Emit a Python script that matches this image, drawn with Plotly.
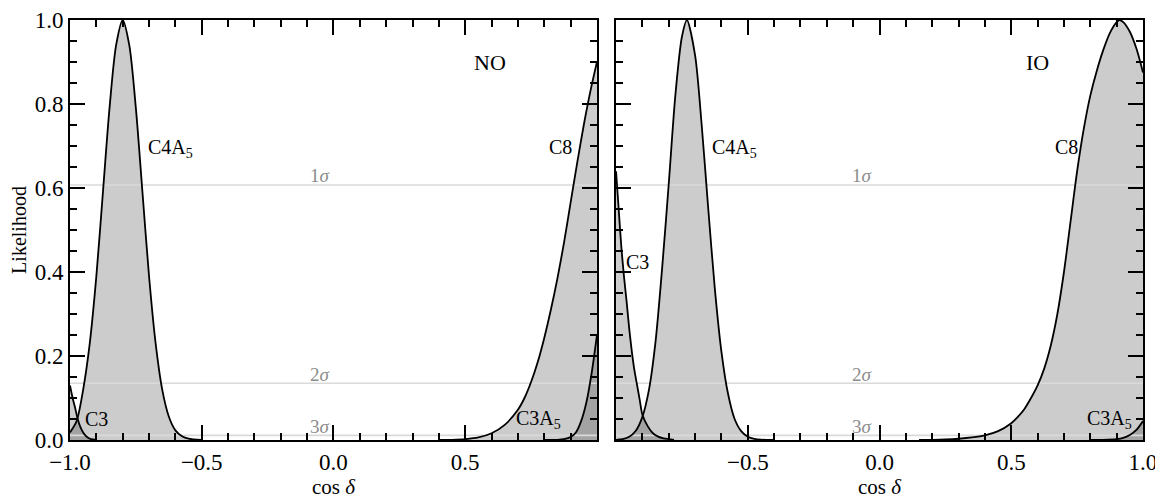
import plotly.graph_objects as go

# ---------------- data ----------------
# Normal ordering (NO) panel
c3_no_x = [-1.0, -0.99, -0.98, -0.97, -0.96, -0.95, -0.94, -0.93, -0.92, -0.9]
c3_no_y = [0.13, 0.10, 0.075, 0.048, 0.03, 0.018, 0.01, 0.005, 0.002, 0.0]

c4a5_no_x = [-1.0, -0.975, -0.95, -0.925, -0.9, -0.875, -0.85, -0.825, -0.8,
             -0.775, -0.75, -0.725, -0.7, -0.675, -0.65, -0.625, -0.6, -0.575, -0.55, -0.5]
c4a5_no_y = [0.018, 0.045, 0.12, 0.23, 0.39, 0.59, 0.79, 0.94, 1.0,
             0.94, 0.79, 0.59, 0.39, 0.23, 0.12, 0.056, 0.023, 0.009, 0.003, 0.0]

c8_no_x = [0.4, 0.45, 0.5, 0.55, 0.6, 0.65, 0.7, 0.725, 0.75, 0.775, 0.8,
           0.825, 0.85, 0.875, 0.9, 0.925, 0.95, 0.975, 1.0]
c8_no_y = [0.0, 0.0005, 0.002, 0.006, 0.016, 0.036, 0.072, 0.10, 0.138, 0.185, 0.243,
           0.31, 0.385, 0.47, 0.565, 0.66, 0.75, 0.83, 0.90]

c3a5_no_x = [0.8, 0.85, 0.875, 0.9, 0.92, 0.94, 0.96, 0.98, 1.0]
c3a5_no_y = [0.0, 0.0005, 0.002, 0.007, 0.018, 0.045, 0.09, 0.16, 0.25]

# Inverted ordering (IO) panel
c3_io_x = [-1.0, -0.99, -0.98, -0.97, -0.96, -0.95, -0.94, -0.93, -0.92, -0.91,
           -0.9, -0.88, -0.86, -0.84, -0.82, -0.8, -0.78]
c3_io_y = [0.64, 0.55, 0.46, 0.39, 0.33, 0.265, 0.21, 0.165, 0.13, 0.095,
           0.06, 0.033, 0.016, 0.008, 0.004, 0.002, 0.0]

c4a5_io_x = [-1.0, -0.975, -0.95, -0.925, -0.9, -0.875, -0.85, -0.825, -0.8, -0.775, -0.75,
             -0.731, -0.7, -0.675, -0.65, -0.625, -0.6, -0.575, -0.55, -0.525, -0.5,
             -0.475, -0.45, -0.4]
c4a5_io_y = [0.0005, 0.002, 0.0075, 0.022, 0.055, 0.12, 0.235, 0.41, 0.61, 0.82, 0.96,
             1.0, 0.916, 0.75, 0.55, 0.36, 0.21, 0.11, 0.05, 0.021, 0.0077,
             0.0025, 0.0007, 0.0]

c8_io_x = [0.15, 0.2, 0.25, 0.3, 0.35, 0.4, 0.45, 0.5, 0.525, 0.55, 0.575, 0.6, 0.625, 0.65, 0.675,
           0.7, 0.725, 0.75, 0.775, 0.8, 0.825, 0.85, 0.875, 0.9, 0.91, 0.925, 0.95, 0.975, 1.0]
c8_io_y = [0.0, 0.0003, 0.0012, 0.003, 0.006, 0.011, 0.021, 0.04, 0.055, 0.074, 0.10, 0.13, 0.17, 0.225, 0.30,
           0.40, 0.52, 0.64, 0.74, 0.82, 0.88, 0.93, 0.97, 0.995, 1.0, 0.995, 0.972, 0.932, 0.875]

c3a5_io_x = [0.8, 0.85, 0.9, 0.925, 0.95, 0.975, 1.0]
c3a5_io_y = [0.0, 0.0003, 0.002, 0.005, 0.012, 0.024, 0.045]

# confidence levels (1, 2, 3 sigma)
sigma_levels = [0.607, 0.135, 0.011]
sigma_labels = ["1<i>σ</i>", "2<i>σ</i>", "3<i>σ</i>"]

# tick labels
left_x_ticks = [-1.0, -0.5, 0.0, 0.5]
right_x_ticks = [-0.5, 0.0, 0.5, 1.0]
x_minor = [-0.9, -0.8, -0.7, -0.6, -0.4, -0.3, -0.2, -0.1, 0.1, 0.2, 0.3, 0.4, 0.6, 0.7, 0.8, 0.9]
y_ticks = [0.0, 0.2, 0.4, 0.6, 0.8, 1.0]
y_minor = [0.05, 0.1, 0.15, 0.25, 0.3, 0.35, 0.45, 0.5, 0.55, 0.65, 0.7, 0.75, 0.85, 0.9, 0.95]

# ---------------- figure ----------------
FONT = "Liberation Serif"
FILL = "rgba(0,0,0,0.2)"
fig = go.Figure()

panels = [
    ("x", "y", [(c3_no_x, c3_no_y), (c4a5_no_x, c4a5_no_y), (c8_no_x, c8_no_y), (c3a5_no_x, c3a5_no_y)]),
    ("x2", "y2", [(c3_io_x, c3_io_y), (c4a5_io_x, c4a5_io_y), (c8_io_x, c8_io_y), (c3a5_io_x, c3a5_io_y)]),
]

for xa, ya, curves in panels:
    # filled areas
    for cx, cy in curves:
        fig.add_trace(go.Scatter(x=cx, y=cy, xaxis=xa, yaxis=ya, mode="lines",
                                 line=dict(width=0, shape="spline", smoothing=0.8),
                                 fill="tozeroy", fillcolor=FILL, hoverinfo="skip",
                                 showlegend=False))
    # sigma lines
    for lv in sigma_levels:
        fig.add_trace(go.Scatter(x=[-1.0, 1.0], y=[lv, lv], xaxis=xa, yaxis=ya, mode="lines",
                                 line=dict(color="#dadada", width=1.6), hoverinfo="skip",
                                 showlegend=False))
    # outlines
    for cx, cy in curves:
        fig.add_trace(go.Scatter(x=cx, y=cy, xaxis=xa, yaxis=ya, mode="lines",
                                 line=dict(color="black", width=1.8, shape="spline", smoothing=0.8),
                                 hoverinfo="skip", showlegend=False))

common_axis = dict(
    showgrid=False, zeroline=False, showline=True, linecolor="black", linewidth=1.8,
    mirror="allticks", ticks="inside", ticklen=15, tickwidth=1.8, tickcolor="black",
    tickfont=dict(family=FONT, size=23, color="black"), automargin=False,
)

# the page body has an 8px margin, so the figure is sized to fit the window
fig.update_layout(
    width=1155, height=491,
    margin=dict(l=62, r=20, t=12, b=59),
    paper_bgcolor="white", plot_bgcolor="white",
    font=dict(family=FONT, size=20, color="black"),
    xaxis=dict(common_axis, domain=[0, 0.4911], range=[-1.0, 1.0],
               tickmode="array", tickvals=left_x_ticks, tickformat=".1f",
               minor=dict(ticks="inside", ticklen=7, tickwidth=1.5, tickcolor="black", tickvals=x_minor),
               title=dict(text="cos <i>δ</i>", font=dict(family=FONT, size=21), standoff=8),
               anchor="y"),
    xaxis2=dict(common_axis, domain=[0.5089, 1.0], range=[-1.0, 1.0],
                tickmode="array", tickvals=right_x_ticks, tickformat=".1f",
                minor=dict(ticks="inside", ticklen=7, tickwidth=1.5, tickcolor="black", tickvals=x_minor),
                title=dict(text="cos <i>δ</i>", font=dict(family=FONT, size=21), standoff=8),
                anchor="y2"),
    yaxis=dict(common_axis, domain=[0, 1], range=[0, 1.0],
               tickmode="array", tickvals=y_ticks, tickformat=".1f",
               minor=dict(ticks="inside", ticklen=7, tickwidth=1.5, tickcolor="black", tickvals=y_minor),
               title=dict(text="Likelihood", font=dict(family=FONT, size=20), standoff=6),
               anchor="x"),
    yaxis2=dict(common_axis, domain=[0, 1], range=[0, 1.0],
                tickmode="array", tickvals=y_ticks, showticklabels=False,
                minor=dict(ticks="inside", ticklen=7, tickwidth=1.5, tickcolor="black", tickvals=y_minor),
                anchor="x2"),
)

# annotations
def label(xref, yref, x, y, text, color="black", size=20):
    fig.add_annotation(x=x, y=y, xref=xref, yref=yref, text=text, showarrow=False,
                       font=dict(family=FONT, size=size, color=color),
                       xanchor="center", yanchor="middle")

label("x", "y", 0.595, 0.9, "NO", size=22)
label("x", "y", -0.62, 0.695, "C4A<sub>5</sub>")
label("x", "y", 0.86, 0.698, "C8")
label("x", "y", -0.90, 0.05, "C3")
label("x", "y", 0.78, 0.048, "C3A<sub>5</sub>")

label("x2", "y2", 0.598, 0.9, "IO", size=22)
label("x2", "y2", -0.552, 0.695, "C4A<sub>5</sub>")
label("x2", "y2", 0.708, 0.698, "C8")
label("x2", "y2", -0.918, 0.424, "C3")
label("x2", "y2", 0.871, 0.048, "C3A<sub>5</sub>")

sig_y = [0.63, 0.157, 0.033]
for xr, yr, sx in [("x", "y", -0.053), ("x2", "y2", -0.065)]:
    for sy, st in zip(sig_y, sigma_labels):
        label(xr, yr, sx, sy, st, color="#8c8c8c", size=19)

fig.write_html("out.html")
